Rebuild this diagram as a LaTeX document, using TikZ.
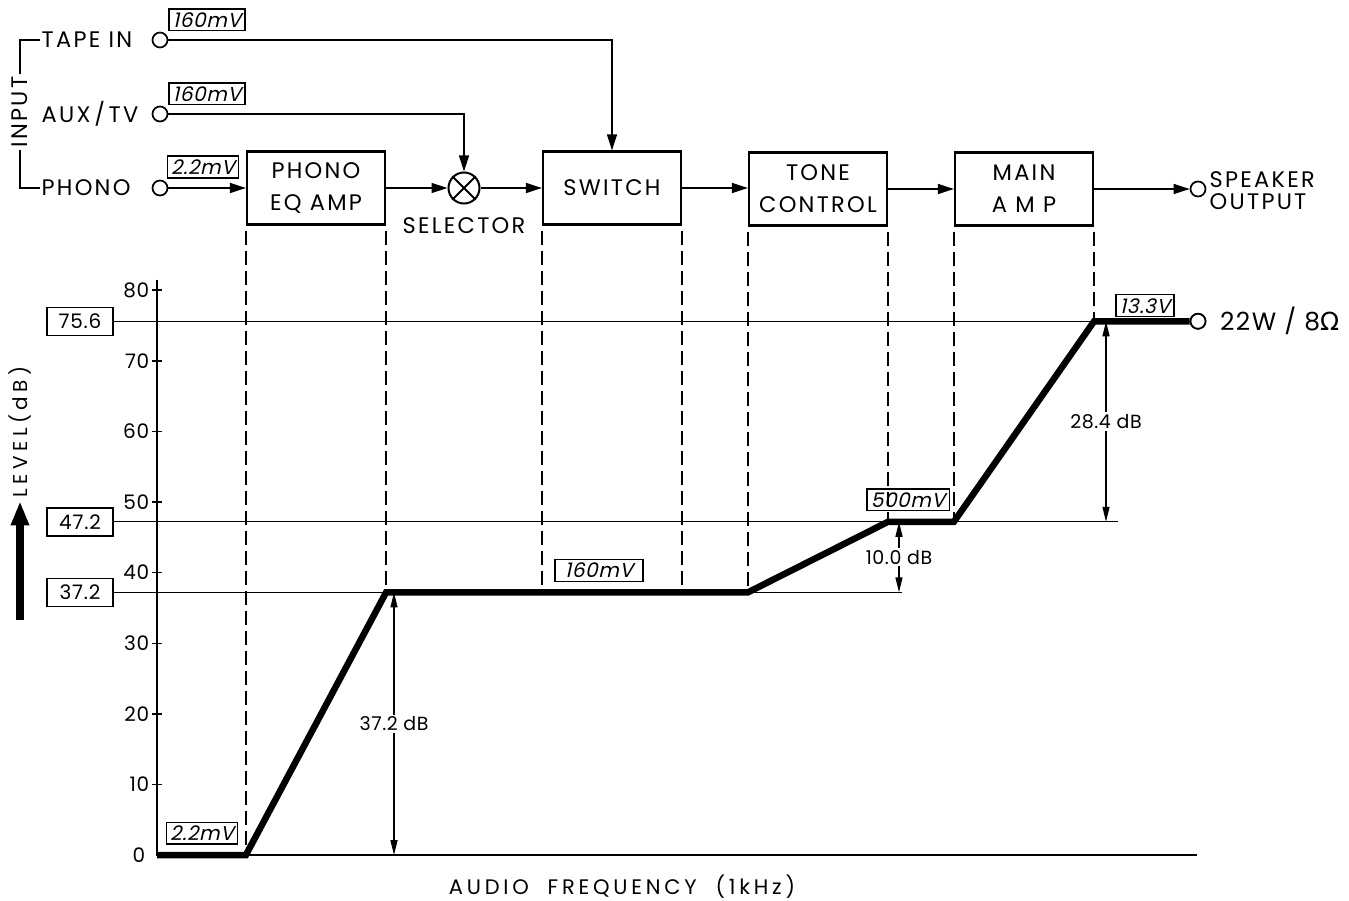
\documentclass[tikz,border=0pt]{standalone}
\usepackage{fontspec}
\setmainfont{Poppins}[LetterSpace=10]
\newfontfamily\slfont{Poppins}[FakeSlant=0.22,LetterSpace=3]
\newfontfamily\symfont{DejaVu Sans}
\usetikzlibrary{arrows.meta,positioning,calc}

\begin{document}
\begin{tikzpicture}[>={Triangle[length=16pt,width=10pt]},x=1pt,y=-1pt,line width=1.4pt,
 font=\fontsize{22.5}{26}\selectfont,
 block/.style={draw,line width=2.2pt,minimum width=138pt,minimum height=73pt,inner sep=0pt,align=center,font=\fontsize{22.5}{32}\selectfont},
 jack/.style={draw,circle,fill=white,minimum size=15pt,inner sep=0pt,line width=1.7pt},
 val/.style={draw,line width=1.2pt,inner xsep=4pt,inner ysep=3.5pt,font=\fontsize{20}{22}\slfont},
 lvl/.style={draw,line width=1.5pt,minimum width=66pt,minimum height=28pt,inner sep=0pt,font=\fontsize{20}{22}\selectfont\addfontfeature{LetterSpace=4}},
 tick/.style={font=\fontsize{20}{22}\selectfont\addfontfeature{LetterSpace=4},inner sep=2pt},
 guide/.style={line width=1.3pt,dash pattern=on 14pt off 6pt,dash phase=15pt},
 dim/.style={line width=1.3pt,>={Triangle[length=15pt,width=7pt]},<->},
 dimlab/.style={fill=white,inner sep=2pt,font=\fontsize{19}{22}\selectfont\addfontfeature{LetterSpace=3}},
 level/.style={line width=6.5pt,line join=miter}]

\useasboundingbox (0,0) rectangle (1349,901);

% inputs
\node[jack] (tape) at (160,40) {};
\node[jack] (aux) at (160,114) {};
\node[jack] (phono) at (160,188) {};
\node[anchor=west,inner sep=1pt] (tapelbl) at (40,40) {TAPE IN};
\node[anchor=west,inner sep=1pt] (auxlbl) at (40,114) {AUX\,/\,TV};
\node[anchor=west,inner sep=1pt] (phonolbl) at (40,188) {PHONO};
\node[rotate=90,fill=white,inner sep=2pt] (inp) at (20,112) {INPUT};
\draw (tapelbl.west) -| (inp);
\draw (phonolbl.west) -| (inp);
\node[val] (tapeval) at (207,20) {160mV};
\node[val] (auxval) at (207,94) {160mV};
\node[val] (phonoval) at (203,167) {2.2mV};

% blocks
\node[block] (eq) at (316,188) {PHONO\\EQ AMP};
\node[draw,circle,minimum size=31pt,inner sep=0pt,line width=2pt] (sel) at (464,188) {};
\draw[line width=2pt] (sel.45) -- (sel.225) (sel.135) -- (sel.315);
\node[below=12pt of sel,inner sep=0pt] (sellbl) {SELECTOR};
\node[block] (sw) at (612,188) {SWITCH};
\node[block] (tone) at (818,189) {TONE\\CONTROL};
\node[block] (main) at (1024,189) {MAIN\\A M P};
\node[jack] (spk) at (1198,189) {};
\node[anchor=west,align=left,inner sep=0pt,font=\fontsize{22.5}{22}\selectfont] (spklbl) at (1209,191) {SPEAKER\\OUTPUT};

\draw[->] (phono) -- (eq);
\draw[->] (eq) -- (sel);
\draw[->] (sel) -- (sw);
\draw[->] (sw) -- (sw -| tone.west);
\draw[->] (tone) -- (main);
\draw[->] (main) -- (spk);
\draw[->] (tape) -| (sw);
\draw[->] (aux) -| (sel);

% level diagram, y in dB
\begin{scope}[shift={(0,855)},y=7.06pt]
\coordinate (z0) at (0,0);
\coordinate (z37) at (0,37.2);
\coordinate (z47) at (0,47.2);
\coordinate (z75) at (0,75.6);

\draw (157,81.5) -- (157,0) -- (1197,0);
\foreach \v in {10,20,...,80}
  \draw (152,\v) node[left,tick] {\v} -- (162,\v);
\node[tick,left] (t0) at (148,0) {0};

\node[lvl] (l756) at (80,75.6) {75.6};
\node[lvl] (l472) at (80,47.2) {47.2};
\node[lvl] (l372) at (80,37.2) {37.2};
\draw (l756) -- (1190,75.6);
\draw (l472) -- (1118,47.2);
\draw (l372) -- (902,37.2);

\draw[guide] (eq.south west) -- (eq.south west |- z0);
\draw[guide] (eq.south east) -- (eq.south east |- z37);
\draw[guide] (sw.south west) -- (sw.south west |- z37);
\draw[guide] (sw.south east) -- (sw.south east |- z37);
\draw[guide] (tone.south west) -- (tone.south west |- z37);
\draw[guide] (tone.south east) -- (tone.south east |- z47);
\draw[guide] (main.south west) -- (main.south west |- z47);
\draw[guide] (main.south east) -- (main.south east |- z75);

\node[jack] (out) at (1198,75.6) {};
\draw[level] (157,0) -- (eq.south west |- z0) -- (eq.south east |- z37)
  -- (tone.south west |- z37) -- (tone.south east |- z47)
  -- (main.south west |- z47) -- (main.south east |- z75) -- (out.west);
\node[jack] at (out) {};
\node[right=13pt of out,inner sep=0pt,font=\fontsize{25}{28}\selectfont\addfontfeature{LetterSpace=6}] (outlbl) {22W / 8{\symfont Ω}};

\node[val] (v22) at (202,3.1) {2.2mV};
\node[val,minimum width=88pt] (v160) at (599,40.3) {160mV};
\node[val,minimum width=80pt] (v500) at (908,50.3) {500mV};
\node[val] (v133) at (1145,77.8) {13.3V};

\draw[dim] (394,0) -- (394,37.2) node[midway,dimlab] (d372) {37.2 dB};
\draw[dim] (899,37.2) -- (899,47.2) node[midway,dimlab] (d100) {10.0 dB};
\draw[dim] (1106,47.2) -- (1106,75.6) node[midway,dimlab] (d284) {28.4 dB};
\end{scope}

% axis titles
\node[font=\fontsize{21}{24}\selectfont\addfontfeature{LetterSpace=18}] (xlbl) at (622,887) {AUDIO~~FREQUENCY~~(1kHz)};
\node[rotate=90,font=\fontsize{20}{24}\selectfont\addfontfeature{LetterSpace=22}] (ylbl) at (20,432) {LEVEL(dB)};
\coordinate (yarr) at (20,620);
\draw[line width=8pt,-{Triangle[length=24pt,width=17pt]}] (yarr) -- (ylbl.west);
\end{tikzpicture}
\end{document}
